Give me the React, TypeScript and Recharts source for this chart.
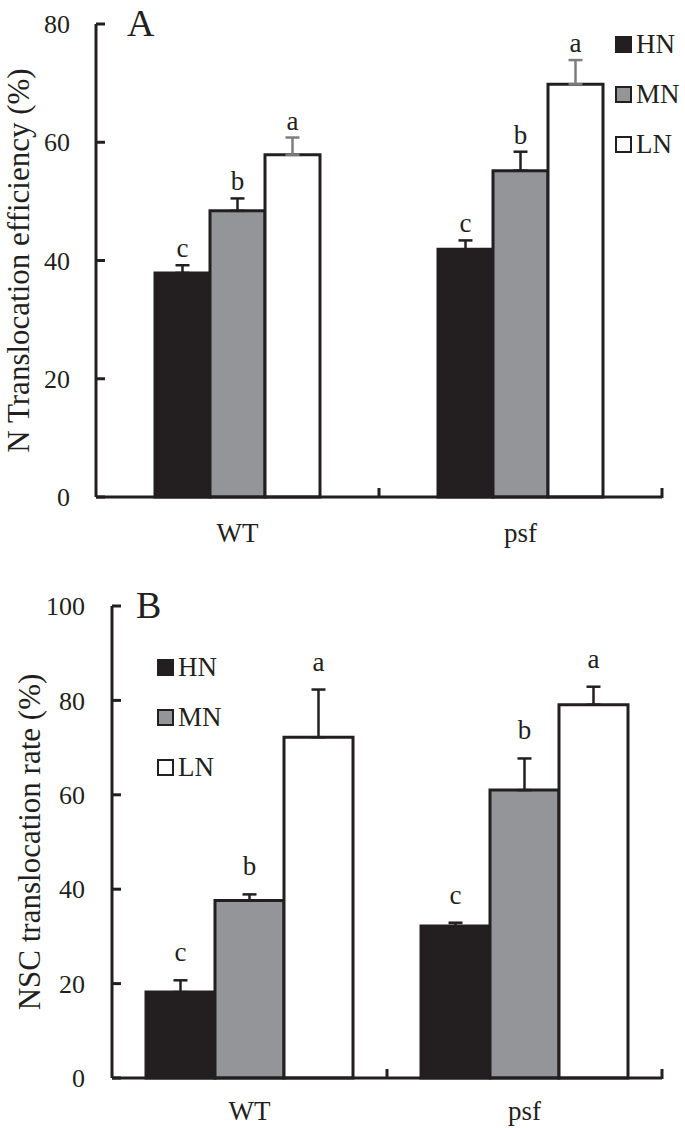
import { Bar, BarChart, ErrorBar, LabelList, Legend, XAxis, YAxis } from 'recharts'

const GROUPS = ['WT', 'psf']
const LEVELS = ['HN', 'MN', 'LN']
const LETTERS = ['c', 'b', 'a']

// panel A: N translocation efficiency (%)
const A_HN = [37.9, 41.9]
const A_MN = [48.4, 55.2]
const A_LN = [57.9, 69.8]
const A_HN_SE = [1.3, 1.5]
const A_MN_SE = [2.1, 3.2]
const A_LN_SE = [2.9, 4.1]
const A_TICKS = [0, 20, 40, 60, 80]

// panel B: NSC translocation rate (%)
const B_HN = [18.2, 32.2]
const B_MN = [37.6, 61.0]
const B_LN = [72.2, 79.1]
const B_HN_SE = [2.5, 0.7]
const B_MN_SE = [1.3, 6.7]
const B_LN_SE = [10.1, 3.8]
const B_TICKS = [0, 20, 40, 60, 80, 100]

const INK = '#231f20'
const GREY_ERR = '#7d7d7d'
const FILLS: Record<string, string> = { HN: '#231f20', MN: '#939598', LN: '#ffffff' }
const FONT = '"Liberation Serif", "Times New Roman", serif'

function buildRows(values: number[][], errors: number[][]) {
  return GROUPS.map((group, i) => {
    const row: Record<string, any> = { group }
    LEVELS.forEach((level, j) => {
      row[level] = values[j][i]
      row[level + '_err'] = [0, errors[j][i]]
      row[level + '_se'] = errors[j][i]
    })
    return row
  })
}

const rowsA = buildRows([A_HN, A_MN, A_LN], [A_HN_SE, A_MN_SE, A_LN_SE])
const rowsB = buildRows([B_HN, B_MN, B_LN], [B_HN_SE, B_MN_SE, B_LN_SE])

function letterContent(rows: Record<string, any>[], level: string, letter: string, gap: number) {
  return (props: any) => {
    const vb = props.viewBox ?? props
    const row = rows[props.index]
    if (!row || !vb) return null
    const value = row[level]
    const errPx = (vb.height * row[level + '_se']) / value
    return (
      <text
        x={vb.x + vb.width / 2}
        y={vb.y - errPx - gap}
        textAnchor="middle"
        fontFamily={FONT}
        style={{ fontFamily: FONT }}
        fontSize={27}
        fill={INK}
      >
        {letter}
      </text>
    )
  }
}

function GroupTick(props: any) {
  const { x, y, payload, band, margin } = props
  const axisY = y - margin
  return (
    <g>
      <text
        x={x}
        y={y}
        textAnchor="middle"
        dominantBaseline="central"
        fontFamily={FONT}
        style={{ fontFamily: FONT }}
        fontSize={27}
        fill={INK}
      >
        {payload.value}
      </text>
      <line x1={x + band / 2} x2={x + band / 2} y1={axisY + 1} y2={axisY - 9} stroke={INK} strokeWidth={3} />
    </g>
  )
}

function renderLegend() {
  // fixed order HN, MN, LN (the default legend sorts by name)
  return (
    <div style={{ fontFamily: FONT, color: INK }}>
      {LEVELS.map((level) => (
        <div key={level} style={{ display: 'flex', alignItems: 'center', height: 50 }}>
          <span
            style={{
              width: 17,
              height: 17,
              boxSizing: 'border-box',
              border: `2.5px solid ${INK}`,
              background: FILLS[level],
            }}
          />
          <span style={{ fontSize: 27, marginLeft: 4, lineHeight: 1 }}>{level}</span>
        </div>
      ))}
    </div>
  )
}

interface PanelProps {
  rows: Record<string, any>[]
  ticks: number[]
  yLabel: string
  yLabelX: number
  height: number
  top: number
  axisWidth: number
  xAxisHeight: number
  barSize: number
  tickMargin: number
  xTickMargin: number
  gap: number
  legendPos: { top: number; left: number }
  lnErrColor: string
}

function Panel(p: PanelProps) {
  const width = 685
  const right = 23
  const band = (width - right - p.axisWidth) / GROUPS.length
  const labelY = p.top + (p.height - p.top - p.xAxisHeight) / 2
  return (
    <BarChart
      width={width}
      height={p.height}
      data={p.rows}
      margin={{ top: p.top, right, left: 0, bottom: 0 }}
      barGap={0}
      barSize={p.barSize}
      style={{ fontFamily: FONT }}
    >
      <XAxis
        dataKey="group"
        height={p.xAxisHeight}
        axisLine={{ stroke: INK, strokeWidth: 3 }}
        tickLine={false}
        tickSize={0}
        tickMargin={p.xTickMargin}
        tick={(t: any) => <GroupTick {...t} band={band} margin={p.xTickMargin} />}
      />
      <YAxis
        width={p.axisWidth}
        domain={[p.ticks[0], p.ticks[p.ticks.length - 1]]}
        ticks={p.ticks}
        interval={0}
        axisLine={{ stroke: INK, strokeWidth: 3 }}
        tickLine={{ stroke: INK, strokeWidth: 3 }}
        tickSize={-9}
        tickMargin={p.tickMargin}
        tick={{ fontFamily: FONT, fontSize: 26, fill: INK }}
        label={() => (
          <text
            transform={`translate(${p.yLabelX}, ${labelY}) rotate(-90)`}
            textAnchor="middle"
            dominantBaseline="central"
            fontFamily={FONT}
            style={{ fontFamily: FONT }}
            fontSize={31}
            fill={INK}
          >
            {p.yLabel}
          </text>
        )}
      />
      <Legend
        layout="horizontal"
        verticalAlign="middle"
        align="center"
        wrapperStyle={{ top: p.legendPos.top, left: p.legendPos.left, width: 'auto' }}
        content={renderLegend}
      />
      {LEVELS.map((level, j) => (
        <Bar
          key={level}
          dataKey={level}
          name={level}
          fill={FILLS[level]}
          stroke={INK}
          strokeWidth={3}
          isAnimationActive={false}
        >
          <ErrorBar
            dataKey={level + '_err'}
            direction="y"
            width={7}
            stroke={level === 'LN' ? p.lnErrColor : INK}
            strokeWidth={2.5}
            isAnimationActive={false}
          />
          <LabelList dataKey={level} content={letterContent(p.rows, level, LETTERS[j], p.gap)} />
        </Bar>
      ))}
    </BarChart>
  )
}

const panelLetter = (text: string, left: number, top: number) => (
  <div
    style={{
      position: 'absolute',
      left,
      top,
      fontFamily: FONT,
      fontSize: 38,
      lineHeight: 1,
      color: INK,
    }}
  >
    {text}
  </div>
)

export default function App() {
  return (
    <div style={{ position: 'absolute', left: 0, top: 0, width: 685, height: 1128, background: '#fff' }}>
      <div style={{ position: 'absolute', left: 0, top: 0 }}>
        <Panel
          rows={rowsA}
          ticks={A_TICKS}
          yLabel="N Translocation efficiency (%)"
          yLabelX={18}
          height={560}
          top={24}
          axisWidth={96}
          xAxisHeight={63}
          barSize={55}
          tickMargin={35}
          xTickMargin={36}
          gap={8}
          legendPos={{ top: 19, left: 615 }}
          lnErrColor={GREY_ERR}
        />
      </div>
      <div style={{ position: 'absolute', left: 0, top: 570 }}>
        <Panel
          rows={rowsB}
          ticks={B_TICKS}
          yLabel="NSC translocation rate (%)"
          yLabelX={29}
          height={558}
          top={36}
          axisWidth={112}
          xAxisHeight={50}
          barSize={69}
          tickMargin={36}
          xTickMargin={33}
          gap={19}
          legendPos={{ top: 72, left: 157 }}
          lnErrColor={INK}
        />
      </div>
      {panelLetter('A', 127, 4)}
      {panelLetter('B', 136, 586)}
    </div>
  )
}
